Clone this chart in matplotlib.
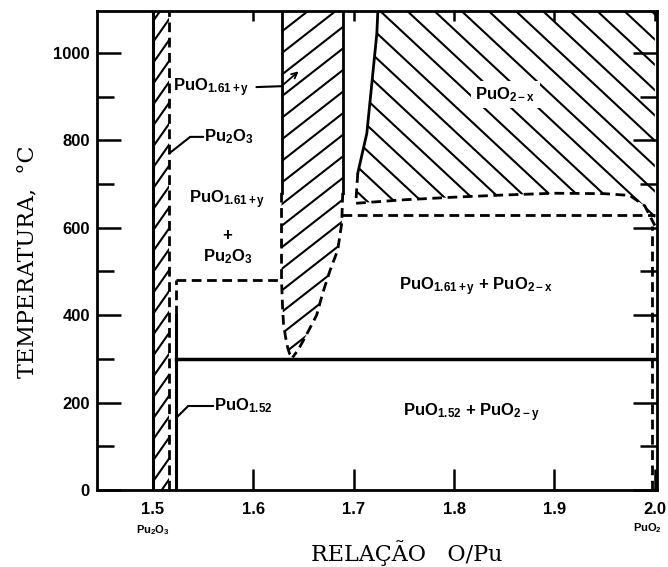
import numpy as np
import matplotlib
matplotlib.use("Agg")
import matplotlib.pyplot as plt
from matplotlib.patches import Polygon
from matplotlib.ticker import MultipleLocator

plt.rcParams["mathtext.fontset"] = "custom"
plt.rcParams["mathtext.rm"] = "Liberation Sans:bold"
plt.rcParams["mathtext.it"] = "Liberation Sans:bold"
plt.rcParams["mathtext.bf"] = "Liberation Sans:bold"
plt.rcParams["mathtext.default"] = "rm"

# axis ranges and ticks
x_min, x_max = 1.444, 2.002
t_min, t_max = 0, 1096
x_ticks = [1.5, 1.6, 1.7, 1.8, 1.9, 2.0]
x_tick_labels = ["1.5", "1.6", "1.7", "1.8", "1.9", "2.0"]
t_ticks = [0, 200, 400, 600, 800, 1000]

# Pu2O3 single-phase strip and PuO1.52 line
strip_left, strip_right = 1.500, 1.516
x_pu152 = 1.523
t_pu152_solid = 400

# invariant temperatures
t_low = 300      # PuO1.52 + PuO2-y
t_mid = 480      # PuO1.61+y + Pu2O3
t_eut = 630      # PuO1.61+y + PuO2-x

# PuO1.61+y field (U shape)
u_left_x = [1.628, 1.628, 1.628, 1.629, 1.630, 1.632, 1.634, 1.636, 1.639]
u_left_t = [t_max, 680, 480, 420, 380, 350, 327, 312, 303]
u_right_x = [1.689, 1.689, 1.688, 1.684, 1.676, 1.669, 1.663, 1.654, 1.645, 1.639]
u_right_t = [t_max, 680, 610, 549, 500, 450, 400, 360, 322, 303]

# PuO2-x field
p2_left_x = [1.724, 1.723, 1.718, 1.713, 1.704]
p2_left_t = [t_max, 1045, 930, 816, 725]
p2_low_x = [1.704, 1.702, 1.75, 1.80, 1.85, 1.90, 1.95, 1.975, 1.99, 2.0]
p2_low_t = [725, 656, 664, 670, 675, 679, 678, 674, 650, 605]
x_pu2_edge = 1.997

fig = plt.figure(figsize=(6.68, 5.67), dpi=100)
ax = fig.add_axes([0.145, 0.136, 0.8383, 0.8445])
ax.set_xlim(x_min, x_max)
ax.set_ylim(t_min, t_max)

for s in ax.spines.values():
    s.set_linewidth(2)

ax.set_xticks(x_ticks)
ax.set_xticklabels(x_tick_labels)
ax.set_yticks(t_ticks)
ax.yaxis.set_minor_locator(MultipleLocator(100))
ax.tick_params(direction="in", top=True, right=True, width=1.8,
               labelsize=12, colors="black")
ax.tick_params(axis="y", which="major", length=17, pad=5)
ax.tick_params(axis="y", which="minor", length=12, width=1.8,
               right=True, direction="in")
ax.tick_params(axis="x", which="major", length=15, pad=9)
for lab in ax.get_xticklabels() + ax.get_yticklabels():
    lab.set_fontfamily("Liberation Sans")
    lab.set_fontweight("bold")

fig.canvas.draw()
# shorter ticks along the top edge
for tk in ax.xaxis.get_major_ticks():
    tk.tick2line.set_markersize(7)

dash = (0, (3.5, 2.0))
lw = 2.0
hlw = 1.5


def hatch_fill(xs, ys, angle, spacing):
    """Fill a polygon with parallel lines, spacing in pixels."""
    poly = Polygon(np.column_stack([xs, ys]), closed=True,
                   facecolor="none", edgecolor="none")
    ax.add_patch(poly)
    pts = ax.transData.transform(np.column_stack([xs, ys]))
    a = np.deg2rad(angle)
    d = np.array([np.cos(a), np.sin(a)])
    n = np.array([-np.sin(a), np.cos(a)])
    offs = pts @ n
    along = pts @ d
    inv = ax.transData.inverted()
    for o in np.arange(offs.min() + spacing / 2, offs.max(), spacing):
        p0 = n * o + d * (along.min() - 10)
        p1 = n * o + d * (along.max() + 10)
        seg = inv.transform(np.vstack([p0, p1]))
        ln, = ax.plot(seg[:, 0], seg[:, 1], color="black", lw=hlw,
                      solid_capstyle="butt")
        ln.set_clip_path(poly)


# hatched single-phase fields
hatch_fill([strip_left, strip_right, strip_right, strip_left],
           [t_min, t_min, t_max, t_max], 55, 12)
hatch_fill(u_left_x + u_right_x[::-1], u_left_t + u_right_t[::-1], 38, 17)
hatch_fill(p2_left_x + p2_low_x[1:] + [2.0],
           p2_left_t + p2_low_t[1:] + [t_max], -43, 18.5)

# Pu2O3 strip boundaries
ax.plot([strip_left, strip_left], [t_min, t_max], color="black", lw=2.2)
ax.plot([strip_right, strip_right], [t_min, t_max], color="black", lw=lw, ls=dash)

# PuO1.52 line
ax.plot([x_pu152, x_pu152], [t_min, t_pu152_solid], color="black", lw=2.2)
ax.plot([x_pu152, x_pu152], [t_pu152_solid, t_mid], color="black", lw=lw, ls=dash)

# two-phase boundary at 480
ax.plot([x_pu152, u_left_x[2]], [t_mid, t_mid], color="black", lw=lw, ls=dash)

# U-shaped PuO1.61+y field boundaries
ax.plot(u_left_x[:2], u_left_t[:2], color="black", lw=lw)
ax.plot(u_left_x[1:], u_left_t[1:], color="black", lw=lw, ls=dash)
ax.plot(u_right_x[:2], u_right_t[:2], color="black", lw=lw)
ax.plot(u_right_x[1:], u_right_t[1:], color="black", lw=lw, ls=dash)

# lower invariant line
ax.plot([x_pu152, 2.0], [t_low, t_low], color="black", lw=2.5)

# PuO2-x field boundaries
ax.plot(p2_left_x, p2_left_t, color="black", lw=lw)
ax.plot(p2_low_x, p2_low_t, color="black", lw=lw, ls=dash)

# eutectoid line and PuO2-y edge
ax.plot([u_right_x[2], 2.0], [t_eut, t_eut], color="black", lw=lw, ls=dash)
ax.plot([x_pu2_edge, x_pu2_edge], [t_min, p2_low_t[-1]], color="black",
        lw=lw, ls=dash)

# phase labels
lab_kw = dict(fontsize=12, fontweight="bold", family="Liberation Sans",
              color="black")
ax.text(1.520, 920, "PuO$_{1.61+y}$", ha="left", va="center", **lab_kw)
ax.text(1.551, 808, "Pu$_2$O$_3$", ha="left", va="center", **lab_kw)
ax.text(1.574, 664, "PuO$_{1.61+y}$", ha="center", va="center", **lab_kw)
ax.text(1.574, 583, "+", ha="center", va="center", **lab_kw)
ax.text(1.574, 533, "Pu$_2$O$_3$", ha="center", va="center", **lab_kw)
ax.text(1.851, 904, "PuO$_{2-x}$", ha="center", va="center",
        bbox=dict(facecolor="white", edgecolor="none", pad=3), **lab_kw)
ax.text(1.822, 465, "PuO$_{1.61+y}$ + PuO$_{2-x}$", ha="center", va="center",
        **lab_kw)
ax.text(1.817, 176, "PuO$_{1.52}$ + PuO$_{2-y}$", ha="center", va="center",
        **lab_kw)
ax.text(1.561, 192, "PuO$_{1.52}$", ha="left", va="center", **lab_kw)

# leader lines
lead = dict(arrowstyle="-", color="black", lw=1.5, shrinkA=0, shrinkB=0)
ax.annotate("", xy=(1.628, 924), xytext=(1.603, 922), arrowprops=lead)
ax.annotate("", xy=(1.645, 958), xytext=(1.628, 924),
            arrowprops=dict(arrowstyle="->", color="black", lw=1.3,
                            shrinkA=0, shrinkB=0))
ax.annotate("", xy=(1.537, 808), xytext=(1.550, 808), arrowprops=lead)
ax.annotate("", xy=(1.516, 770), xytext=(1.537, 808), arrowprops=lead)
ax.annotate("", xy=(1.535, 192), xytext=(1.560, 192), arrowprops=lead)
ax.annotate("", xy=(1.524, 167), xytext=(1.535, 192), arrowprops=lead)

# compositions under the axis ends
xt = ax.get_xaxis_transform()
ax.text(1.5, -0.084, "Pu$_2$O$_3$", transform=xt, ha="center", va="center",
        fontsize=8, fontweight="bold", family="Liberation Sans")
ax.text(1.993, -0.08, "PuO$_2$", transform=xt, ha="center", va="center",
        fontsize=8, fontweight="bold", family="Liberation Sans")

# axis titles
ax.text(0.554, -0.131, "RELAÇÃO   O/Pu", transform=ax.transAxes, ha="center",
        va="center", fontsize=16, family="DejaVu Serif")
ax.text(-0.123, 0.476, "TEMPERATURA,  °C", transform=ax.transAxes,
        ha="center", va="center", rotation=90, fontsize=16,
        family="DejaVu Serif")

fig.savefig("out.png", dpi=100)
